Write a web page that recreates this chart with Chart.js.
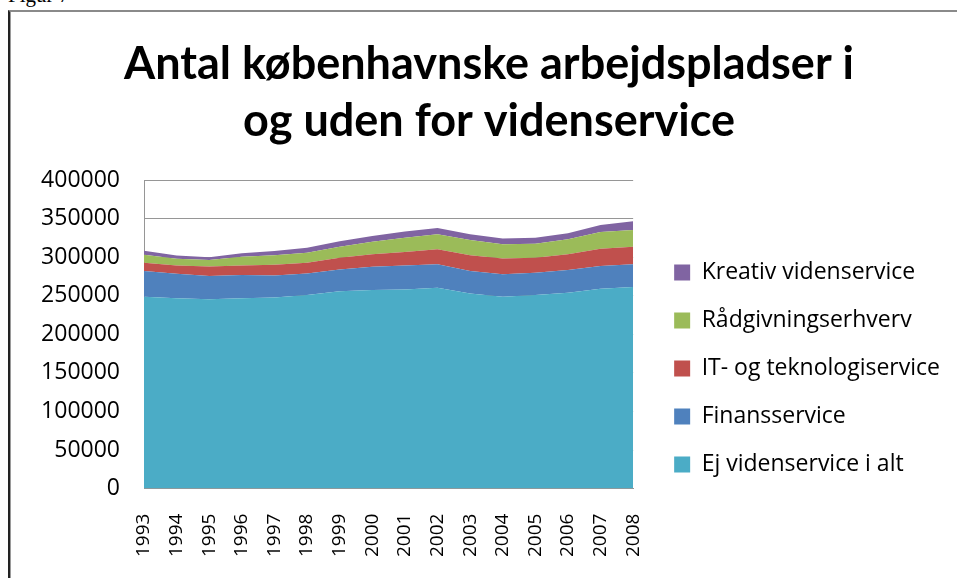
<!DOCTYPE html>
<html lang="da">
<head>
<meta charset="utf-8">
<title>Antal københavnske arbejdspladser</title>
<script src="https://cdn.jsdelivr.net/npm/chart.js@4.4.1/dist/chart.umd.min.js"></script>
<style>
  html, body { margin: 0; padding: 0; background: #fff; }
  #wrap { position: relative; width: 957px; height: 578px; overflow: hidden; }
  #figur {
    position: absolute; left: 8px; top: -15px;
    font-family: "Liberation Serif", serif; font-size: 21px; line-height: 21px; color: #000;
  }
  #frame {
    position: absolute; left: 8px; top: 10px; width: 1000px; height: 700px;
    border-left: 2px solid #222; border-top: 2px solid #8a8a8a;
    box-shadow: inset 1px 0 0 #9a9a9a;
  }
  #chart { position: absolute; left: 0; top: 0; }
</style>
</head>
<body>
<div id="wrap">
  <div id="figur">Figur 7</div>
  <div id="frame"></div>
  <canvas id="chart" width="957" height="578"></canvas>
</div>
<script>
// Data
const aar = ['1993', '1994', '1995', '1996', '1997', '1998', '1999', '2000',
             '2001', '2002', '2003', '2004', '2005', '2006', '2007', '2008'];

const ejViden = [249000, 247000, 245500, 247000, 248000, 251000, 256000, 257500,
                 258400, 260600, 253200, 249000, 251000, 254200, 259400, 261400];
const finans = [33200, 31700, 30300, 30000, 28600, 28200, 28200, 30400,
                31200, 30300, 29000, 29000, 29100, 29400, 29300, 29500];
const itTeknologi = [10900, 10800, 12200, 12600, 13900, 13900, 15200, 16000,
                     17300, 19500, 20400, 20400, 19500, 20400, 22600, 23000];
const raadgivning = [10400, 8700, 8600, 11300, 12100, 13000, 14300, 16500,
                     18700, 19500, 19900, 18600, 18200, 19500, 21600, 21600];
const kreativ = [5200, 4300, 3500, 4300, 5600, 6500, 7300, 7300,
                 7800, 8200, 7400, 7400, 7800, 7800, 9100, 11300];

const yTicks = [0, 50000, 100000, 150000, 200000, 250000, 300000, 350000, 400000];

const titel = ['Antal københavnske arbejdspladser i', 'og uden for videnservice'];

// Farver (Office 2007 standard)
const farver = {
  ej: '#4BACC6',
  finans: '#4F81BD',
  it: '#C0504D',
  raad: '#9BBB59',
  kreativ: '#8064A2'
};

// Hjælper til en stablet arealserie
function areal(label, data, color, fill) {
  return {
    label: label,
    data: data,
    backgroundColor: color,
    borderColor: color,
    borderWidth: 0,
    pointRadius: 0,
    pointHoverRadius: 0,
    tension: 0,
    fill: fill
  };
}

const ctx = document.getElementById('chart');

new Chart(ctx, {
  type: 'line',
  data: {
    labels: aar,
    datasets: [
      areal('Ej videnservice i alt', ejViden, farver.ej, 'origin'),
      areal('Finansservice', finans, farver.finans, '-1'),
      areal('IT- og teknologiservice', itTeknologi, farver.it, '-1'),
      areal('Rådgivningserhverv', raadgivning, farver.raad, '-1'),
      areal('Kreativ videnservice', kreativ, farver.kreativ, '-1')
    ]
  },
  options: {
    responsive: false,
    animation: false,
    devicePixelRatio: 1,
    layout: {
      padding: { left: 28, right: 7, top: 10, bottom: 4 }
    },
    plugins: {
      title: {
        display: true,
        text: titel,
        color: '#000',
        font: { family: 'Lato', size: 45, weight: 'bold', lineHeight: 1.27 },
        padding: { top: 26, bottom: 30 }
      },
      legend: {
        position: 'right',
        fullSize: true,
        align: 'start',
        maxWidth: 320,
        reverse: true,
        // tom titel bruges kun til at skubbe punkterne ned
        title: {
          display: true,
          text: '',
          font: { size: 10 },
          padding: { top: 214, bottom: 0 }
        },
        labels: {
          color: '#000',
          boxWidth: 16,
          boxHeight: 16,
          padding: 25,
          font: { family: 'Open Sans', size: 23 }
        }
      },
      tooltip: { enabled: false }
    },
    scales: {
      x: {
        offset: false,
        grid: { display: false },
        border: { display: true, color: '#969696' },
        ticks: {
          color: '#000',
          autoSkip: false,
          minRotation: 90,
          maxRotation: 90,
          padding: 17,
          font: { family: 'Open Sans', size: 19 }
        }
      },
      y: {
        stacked: true,
        min: 0,
        max: 400000,
        afterBuildTicks: (scale) => {
          scale.ticks = yTicks.map(v => ({ value: v }));
        },
        afterFit: (scale) => { scale.width = 116; },
        grid: { color: '#969696', drawTicks: false },
        border: { display: true, color: '#969696' },
        ticks: {
          color: '#000',
          padding: 24,
          font: { family: 'Open Sans', size: 23 },
          callback: (v) => String(v)
        }
      },
      // usynlig akse: giver luft mellem plotområde og forklaring
      luft: {
        type: 'linear',
        position: 'right',
        display: true,
        grid: { display: false, drawTicks: false },
        border: { display: false },
        ticks: { display: false },
        afterFit: (scale) => { scale.width = 16; }
      }
    }
  }
});
</script>
</body>
</html>
